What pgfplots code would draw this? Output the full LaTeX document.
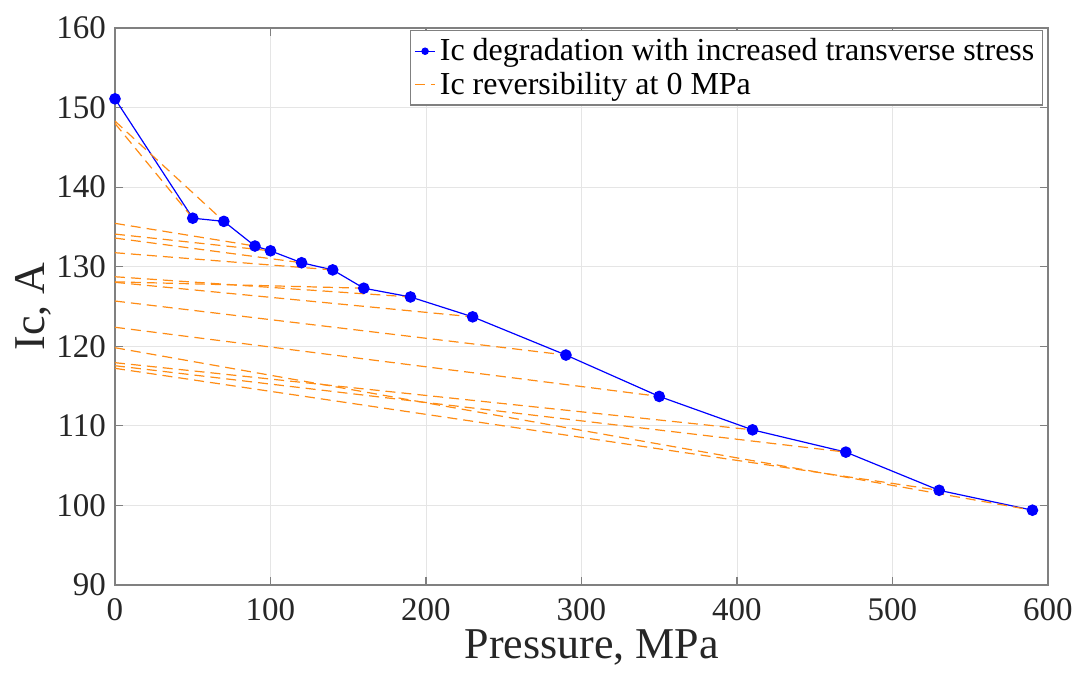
\documentclass[border=0pt]{standalone}
\usepackage{pgfplots}
\pgfplotsset{compat=1.18}
\usepackage{fontspec}
\setmainfont{Liberation Serif}
\definecolor{myblue}{rgb}{0,0,1}
\definecolor{myorange}{rgb}{1,0.55,0.08}
\definecolor{axgray}{rgb}{0.5,0.5,0.5}
\tikzset{odash/.style={color=myorange, line width=0.6pt, dash pattern=on 5pt off 3pt, mark=none}}
\begin{document}
\begin{tikzpicture}
\path[use as bounding box] (-57.5pt,-45pt) rectangle (481.5pt,292.5pt);
\begin{axis}[
  at={(0,0)}, anchor=south west,
  scale only axis,
  width=466.5pt, height=278.5pt,
  xmin=0, xmax=600, ymin=90, ymax=160,
  xtick={0,100,...,600}, ytick={90,100,...,160},
  grid=major,
  grid style={line width=0.4pt, color=black!10},
  axis line style={color=axgray, line width=0.6pt},
  tick style={color=axgray, line width=0.6pt},
  major tick length=4pt,
  tick align=inside,
  xtick pos=both, ytick pos=both,
  /pgf/number format/assume math mode=true,
  ticklabel style={font=\fontsize{16.5pt}{18pt}\selectfont, text=black!85},
  yticklabel style={xshift=-1pt},
  xticklabel style={yshift=-3pt},
  xlabel={Pressure, MPa},
  ylabel={Ic, A},
  label style={font=\fontsize{22pt}{24pt}\selectfont, text=black!85},
  xlabel style={at={(axis description cs:0.511,-0.113)}, anchor=center},
  ylabel style={at={(axis description cs:-0.088,0.5)}, anchor=center, rotate=0},
  legend style={at={(0.9946,0.9964)}, anchor=north east,
    draw=axgray, line width=0.6pt,
    font=\fontsize{16pt}{18.5pt}\selectfont,
    inner xsep=2pt, inner ysep=2pt,
    row sep=0pt,
    cells={anchor=west}},
  legend image post style={scale=0.6},
  legend cell align=left,
]
\addplot[color=myblue, solid, line width=0.6pt, mark=*, mark size=2.6pt, mark options={fill=myblue, draw=myblue, solid}]
  coordinates {(0,151.1)(50,136.1)(70,135.7)(90,132.6)(100,132.0)(120,130.5)(140,129.6)(160,127.3)(190,126.2)(230,123.7)(290,118.9)(350,113.7)(410,109.5)(470,106.7)(530,101.9)(590,99.4)};
\addlegendentry{Ic degradation with increased transverse stress}
\addplot[odash] coordinates {(0,148.3)(70,135.7)};
\addlegendentry{Ic reversibility at 0 MPa}
\addplot[odash, forget plot] coordinates {(0,148.0)(50,136.1)};
\addplot[odash, forget plot] coordinates {(0,135.45)(90,132.6)};
\addplot[odash, forget plot] coordinates {(0,134.1)(100,132.0)};
\addplot[odash, forget plot] coordinates {(0,133.6)(120,130.5)};
\addplot[odash, forget plot] coordinates {(0,131.76)(140,129.6)};
\addplot[odash, forget plot] coordinates {(0,128.1)(160,127.3)};
\addplot[odash, forget plot] coordinates {(0,128.74)(190,126.2)};
\addplot[odash, forget plot] coordinates {(0,128.04)(230,123.7)};
\addplot[odash, forget plot] coordinates {(0,125.69)(290,118.9)};
\addplot[odash, forget plot] coordinates {(0,122.39)(350,113.7)};
\addplot[odash, forget plot] coordinates {(0,117.94)(410,109.5)};
\addplot[odash, forget plot] coordinates {(0,117.56)(470,106.7)};
\addplot[odash, forget plot] coordinates {(0,117.23)(530,101.9)};
\addplot[odash, forget plot] coordinates {(0,119.82)(590,99.4)};
\end{axis}
\end{tikzpicture}
\end{document}
